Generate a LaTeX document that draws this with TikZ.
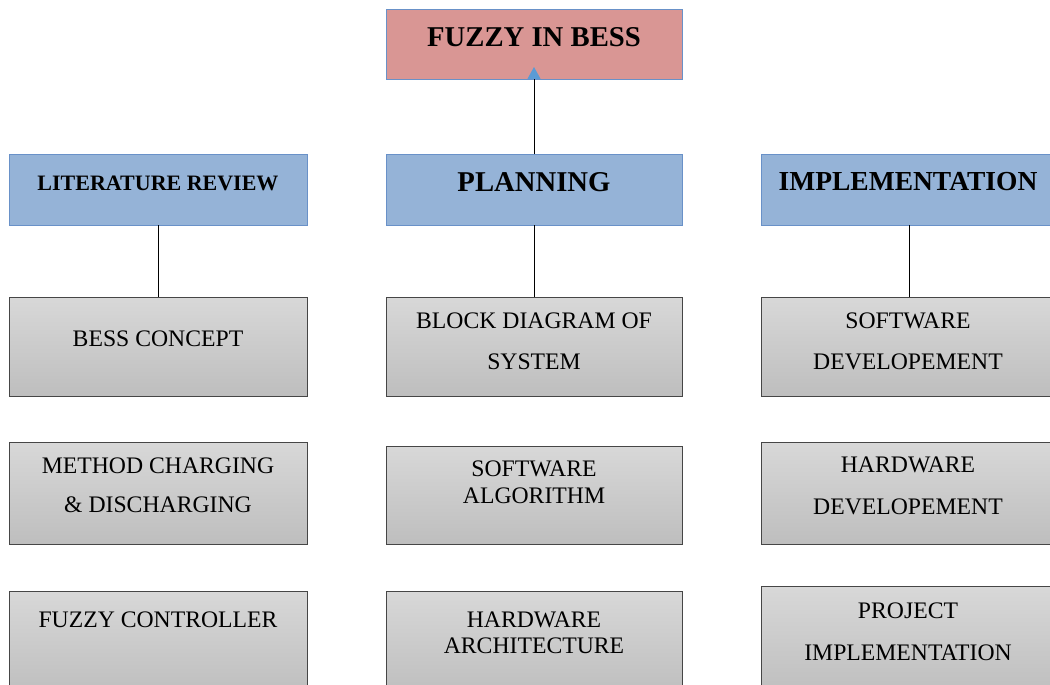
\documentclass[tikz,border=0pt]{standalone}
\usepackage{fontspec}
\setmainfont{Liberation Serif}
\usetikzlibrary{arrows.meta}
\definecolor{redfill}{RGB}{217,150,148}
\definecolor{bluefill}{RGB}{149,179,215}
\definecolor{blueedge}{RGB}{105,145,200}
\definecolor{grayedge}{RGB}{70,70,70}
\definecolor{graytop}{RGB}{216,216,216}
\definecolor{graybot}{RGB}{190,190,190}
\definecolor{tipblue}{RGB}{91,155,213}
\tikzset{
  base/.style={rectangle, inner sep=0pt, outer sep=0pt},
  redbox/.style={base, draw=blueedge, line width=1pt, fill=redfill},
  bluebox/.style={base, draw=blueedge, line width=1pt, fill=bluefill},
  graybox/.style={base, draw=grayedge, line width=1pt, top color=graytop, bottom color=graybot},
  head/.style={inner sep=0pt, font=\fontsize{28.7}{30}\selectfont\bfseries},
  headsmall/.style={inner sep=0pt, font=\fontsize{22}{24}\selectfont\bfseries},
  txt/.style={inner sep=0pt, font=\fontsize{23.7}{25}\selectfont, align=center},
  link/.style={draw=black, line width=1pt},
}
\newcommand{\boxat}[6]{% style, name, x1, y1, x2, y2
  \path[#1] (#3,#4) rectangle (#5,#6);
  \node[base, minimum width=#5pt-#3pt, minimum height=#6pt-#4pt] (#2) at ({(#3+#5)/2},{(#4+#6)/2}) {};
}
\begin{document}
\begin{tikzpicture}[x=1pt, y=-1pt]
\useasboundingbox (0,0) rectangle (1050,685);
\fill[white] (0,0) rectangle (1050,685);
\clip (0,0) rectangle (1050,685);

% top
\boxat{redbox}{top}{386}{10}{682}{80}
\node[head] (toptxt) at (534,37) {FUZZY IN BESS};

% row 2
\boxat{bluebox}{lit}{9}{154}{307}{225}
\boxat{bluebox}{plan}{386}{154}{682}{225}
\boxat{bluebox}{impl}{761}{154}{1058}{225}
\node[headsmall] (littxt) at (158,183) {LITERATURE REVIEW};
\node[head] (plantxt) at (534,182) {PLANNING};
\node[head, font=\fontsize{27.5}{30}\selectfont\bfseries] (impltxt) at (908,182) {IMPLEMENTATION};

% row 3
\boxat{graybox}{l1}{9}{297}{307}{396}
\boxat{graybox}{p1}{386}{297}{682}{396}
\boxat{graybox}{i1}{761}{297}{1058}{396}
\node[txt] (l1a) at (158,339) {BESS CONCEPT};
\node[txt] (p1a) at (534,321) {BLOCK DIAGRAM OF};
\node[txt] (p1b) at (534,362) {SYSTEM};
\node[txt] (i1a) at (908,321) {SOFTWARE};
\node[txt] (i1b) at (908,362) {DEVELOPEMENT};

% row 4
\boxat{graybox}{l2}{9}{442}{307}{544}
\boxat{graybox}{p2}{386}{446}{682}{544}
\boxat{graybox}{i2}{761}{442}{1058}{544}
\node[txt] (l2a) at (158,466) {METHOD CHARGING};
\node[txt] (l2b) at (158,505) {\& DISCHARGING};
\node[txt] (p2a) at (534,469) {SOFTWARE};
\node[txt] (p2b) at (534,496) {ALGORITHM};
\node[txt] (i2a) at (908,465) {HARDWARE};
\node[txt] (i2b) at (908,507) {DEVELOPEMENT};

% row 5
\boxat{graybox}{l3}{9}{591}{307}{695}
\boxat{graybox}{p3}{386}{591}{682}{695}
\boxat{graybox}{i3}{761}{586}{1058}{695}
\node[txt] (l3a) at (158,620) {FUZZY CONTROLLER};
\node[txt] (p3a) at (534,620) {HARDWARE};
\node[txt] (p3b) at (534,646) {ARCHITECTURE};
\node[txt] (i3a) at (908,611) {PROJECT};
\node[txt] (i3b) at (908,653) {IMPLEMENTATION};

% connectors
\draw[link] (lit.south -| 158,0) -- (l1.north -| 158,0);
\draw[link] (plan.south -| 534,0) -- (p1.north -| 534,0);
\draw[link] (impl.south -| 909,0) -- (i1.north -| 909,0);
\draw[link, -{Triangle[length=12pt, width=13pt, color=tipblue]}] (plan.north -| 534,0) -- ([yshift=13pt]top.south -| 534,0);
\end{tikzpicture}
\end{document}
